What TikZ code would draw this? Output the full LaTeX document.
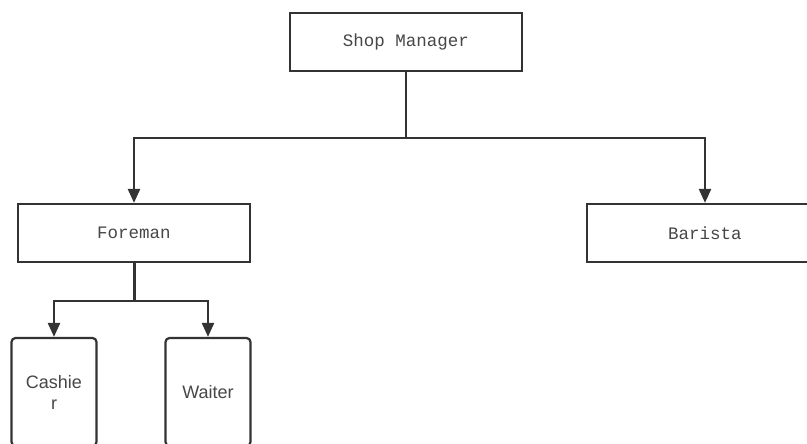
\documentclass[tikz,border=0pt]{standalone}
\usepackage{fontspec}
\setmainfont{Liberation Sans}
\newfontfamily\boxmono{Liberation Mono}
\usetikzlibrary{arrows.meta}
\definecolor{ink}{HTML}{333333}
\begin{document}
\begin{tikzpicture}[x=1pt,y=-1pt,
  rbox/.style={draw=ink,line width=2.2pt,fill=white,minimum width=232pt,minimum height=58pt,inner sep=0pt,
    font=\boxmono\fontsize{17.5}{20}\selectfont,text=ink!90},
  sbox/.style={draw=ink,line width=2.2pt,fill=white,rounded corners=4pt,minimum width=85pt,minimum height=108pt,inner sep=0pt,
    font=\fontsize{18}{21}\selectfont,text=ink!90,align=center},
  conn/.style={draw=ink,line width=2.4pt,line join=miter},
  arr/.style={conn,-{Triangle[width=12pt,length=14pt]}}]
\useasboundingbox (0,0) rectangle (807,444);
\clip (0,0) rectangle (807,444);
\fill[white] (0,0) rectangle (807,444);
\node[rbox] (sm) at (406,42) {Shop Manager};
\node[rbox] (fo) at (134,233) {Foreman};
\node[rbox,minimum width=236pt] (ba) at (705,233) {Barista};
\node[sbox] (ca) at (54,392) {Cashie\\r};
\node[sbox] (wa) at (208,392) {Waiter};
\coordinate (j1) at (406,138);
\coordinate (j2) at (134,301);
\draw[conn] (sm.south) -- (j1);
\draw[arr] (j1) -| (fo.north);
\draw[arr] (j1) -| (ba.north);
\draw[conn,line width=3pt] (fo.south) -- (j2);
\draw[arr] (j2) -| (ca.north);
\draw[arr] (j2) -| (wa.north);
\end{tikzpicture}
\end{document}
